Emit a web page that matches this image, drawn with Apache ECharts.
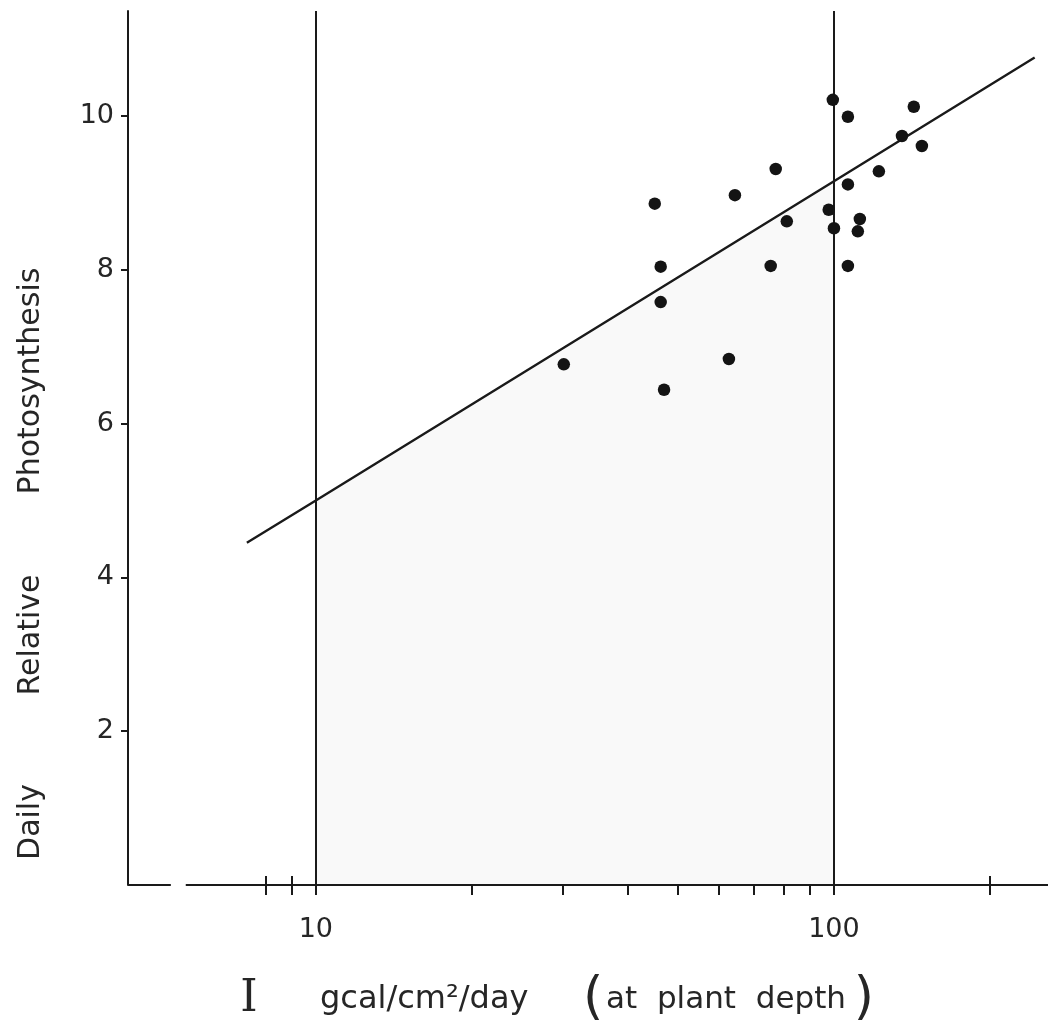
<!DOCTYPE html>
<html>
<head>
<meta charset="utf-8">
<title>Daily Relative Photosynthesis vs. Light</title>
<script src="https://cdn.jsdelivr.net/npm/echarts@6/dist/echarts.min.js"></script>
<style>
  html, body { margin: 0; padding: 0; background: #fff; }
  #chart { width: 1048px; height: 1026px; }
</style>
</head>
<body>
<div id="chart"></div>
<script>
// Light at plant depth (gcal/cm2/day) and daily relative photosynthesis
const lightI = [30.1, 45.1, 46.3, 46.3, 47.0, 62.7, 64.4, 75.5, 77.2, 81.1, 97.7,
                99.5, 100, 106.4, 106.4, 106.4, 112.2, 111.2, 122.1, 135.3, 142.6, 147.8];
const relPhoto = [6.77, 8.86, 8.04, 7.58, 6.44, 6.84, 8.97, 8.05, 9.31, 8.63, 8.78,
                  10.21, 8.54, 9.99, 9.11, 8.05, 8.66, 8.50, 9.28, 9.74, 10.12, 9.61];

// Fitted line, read at its ends and where it meets the 10 and 100 guides
const fitI = [7.36, 10, 100, 244];
const fitP = [4.45, 5.00, 9.15, 10.76];

// Axes
const xRange = [4.34, 258.9];
const yRange = [0, 11.365];
const xTicks = [8, 9, 10, 20, 30, 40, 50, 60, 70, 80, 90, 100, 200];
const xLabels = [10, 100];
const xGuides = [10, 100];
const yTicks = [2, 4, 6, 8, 10];
const axisGap = [5.25, 5.61];

const INK = '#1a1a1a';
const TEXT = '#262626';
const FONT = '"DejaVu Sans", "Liberation Sans", sans-serif';

const points = lightI.map((v, i) => [v, relPhoto[i]]);
const fitLine = fitI.map((v, i) => [v, fitP[i]]);
const shaded = fitLine.slice(1, 3);

const chart = echarts.init(document.getElementById('chart'), null, { renderer: 'canvas' });

chart.setOption({
  animation: false,
  backgroundColor: '#ffffff',
  grid: { left: 128, right: 0, top: 11, bottom: 141, outerBoundsMode: 'none', containLabel: false },
  xAxis: {
    type: 'log',
    logBase: 10,
    min: xRange[0],
    max: xRange[1],
    position: 'bottom',
    // raised so the tick marks cross the (separately drawn) axis line
    offset: -9,
    axisLine: { show: false },
    splitLine: { show: false },
    minorTick: { show: false },
    minorSplitLine: { show: false },
    axisTick: { show: true, inside: false, length: 19, customValues: xTicks,
                lineStyle: { color: INK, width: 2 } },
    axisLabel: { show: true, customValues: xLabels, margin: 40,
                 color: TEXT, fontSize: 27, fontFamily: FONT }
  },
  yAxis: {
    type: 'value',
    min: yRange[0],
    max: yRange[1],
    axisLine: { show: true, lineStyle: { color: INK, width: 2 } },
    axisTick: { show: true, inside: false, length: 7, customValues: yTicks,
                lineStyle: { color: INK, width: 2 } },
    axisLabel: { show: true, customValues: yTicks, margin: 14,
                 color: TEXT, fontSize: 27, fontFamily: FONT },
    splitLine: { show: false }
  },
  series: [
    {
      // light band under the fitted line between the 10 and 100 guides
      type: 'line',
      data: shaded,
      symbol: 'none',
      silent: true,
      lineStyle: { width: 0 },
      areaStyle: { color: '#f9f9f9', opacity: 1 },
      z: 1
    },
    {
      // broken horizontal axis and the two vertical guides
      type: 'line',
      data: [],
      silent: true,
      markLine: {
        silent: true,
        symbol: ['none', 'none'],
        label: { show: false },
        lineStyle: { color: INK, width: 2, type: 'solid', opacity: 1 },
        emphasis: { disabled: true },
        data: [
          [{ coord: [xRange[0], yRange[0]] }, { coord: [axisGap[0], yRange[0]] }],
          [{ coord: [axisGap[1], yRange[0]] }, { coord: [xRange[1], yRange[0]] }],
          { xAxis: xGuides[0] },
          { xAxis: xGuides[1] }
        ]
      },
      z: 3
    },
    {
      type: 'line',
      data: fitLine,
      symbol: 'none',
      silent: true,
      lineStyle: { color: INK, width: 2.4, opacity: 1 },
      z: 4
    },
    {
      type: 'scatter',
      data: points,
      symbol: 'circle',
      symbolSize: 12.5,
      itemStyle: { color: '#141414', opacity: 1 },
      z: 5
    }
  ],
  graphic: [
    { type: 'text', x: 31, y: 822, rotation: Math.PI / 2,
      style: { text: 'Daily', fontSize: 30, fontFamily: FONT, fill: TEXT, align: 'center', verticalAlign: 'middle' } },
    { type: 'text', x: 31, y: 635, rotation: Math.PI / 2,
      style: { text: 'Relative', fontSize: 30, fontFamily: FONT, fill: TEXT, align: 'center', verticalAlign: 'middle' } },
    { type: 'text', x: 31, y: 381, rotation: Math.PI / 2,
      style: { text: 'Photosynthesis', fontSize: 30, fontFamily: FONT, fill: TEXT, align: 'center', verticalAlign: 'middle' } },
    { type: 'text', x: 249, y: 1000,
      style: { text: 'I', fontSize: 44, fontFamily: '"DejaVu Serif", "Liberation Serif", serif', fill: TEXT, align: 'center', verticalAlign: 'middle' } },
    { type: 'text', x: 320, y: 1000,
      style: { text: 'gcal/cm²/day', fontSize: 32, fontFamily: FONT, fill: TEXT, align: 'left', verticalAlign: 'middle' } },
    { type: 'text', x: 583, y: 999,
      style: { text: '(', fontSize: 52, fontFamily: FONT, fill: TEXT, align: 'left', verticalAlign: 'middle' } },
    { type: 'text', x: 726, y: 1000,
      style: { text: 'at  plant  depth', fontSize: 31, fontFamily: FONT, fill: TEXT, align: 'center', verticalAlign: 'middle' } },
    { type: 'text', x: 874, y: 999,
      style: { text: ')', fontSize: 52, fontFamily: FONT, fill: TEXT, align: 'right', verticalAlign: 'middle' } }
  ]
});
</script>
</body>
</html>
